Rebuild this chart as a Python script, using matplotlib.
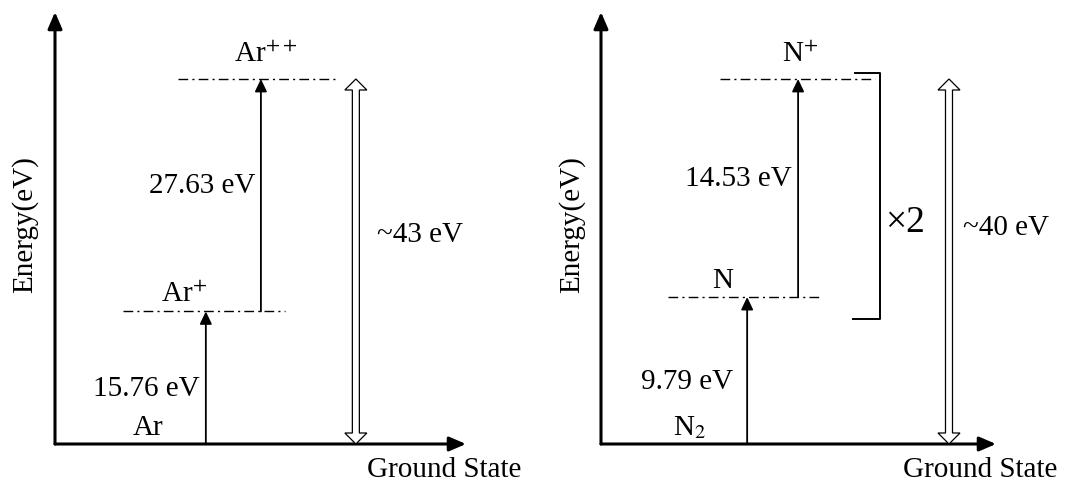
"""Ionisation energy ladders for Ar and N2."""
import matplotlib

matplotlib.use("Agg")
import matplotlib.pyplot as plt
from matplotlib.patches import Polygon
from matplotlib.transforms import IdentityTransform

# energy ladders (eV)
AR_SPECIES = ["Ar", "Ar$^{+}$", "Ar$^{++}$"]
AR_STEPS = [15.76, 27.63]
AR_TOTAL = "~43 eV"

N_SPECIES = ["N$_{2}$", "N", "N$^{+}$"]
N_STEPS = [9.79, 14.53]
N_TOTAL = "~40 eV"
N_MULT = "\u00d72"

Y_LABEL = "Energy(eV)"
X_LABEL = "Ground State"

plt.rcParams.update(
    {
        "font.family": "Liberation Serif",
        "mathtext.fontset": "stix",
        "font.size": 21,
    }
)

W, H = 1083, 486
GROUND_PX, TOP_PX, LEVEL_TOP_PX = 444, 12, 79

fig = plt.figure(figsize=(W / 100, H / 100), dpi=100)


def make_axes(x0, x1):
    ax = fig.add_axes([x0 / W, (H - GROUND_PX) / H, (x1 - x0) / W, (GROUND_PX - TOP_PX) / H])
    ax.axis("off")
    return ax


def arrow(ax, start, end, lw, hl, hw, coords="data"):
    ax.annotate(
        "",
        xy=end,
        xytext=start,
        xycoords=coords,
        textcoords=coords,
        arrowprops=dict(
            arrowstyle=f"-|>,head_length={hl},head_width={hw}",
            lw=lw,
            color="black",
            shrinkA=0,
            shrinkB=0,
            mutation_scale=10,
        ),
        annotation_clip=False,
    )


def label(ax, text, x, y, dy, ha="center", **kw):
    ax.annotate(text, xy=(x, y), xytext=(0, dy), textcoords="offset pixels",
                ha=ha, va="baseline", annotation_clip=False, **kw)


def hollow_double_arrow(ax, x, y0, y1, head_w=11, head_l=11, shaft_w=3.5):
    (cx, yb), (_, yt) = ax.transData.transform([(x, y0), (x, y1)])
    verts = [
        (cx, yb), (cx + head_w, yb + head_l), (cx + shaft_w, yb + head_l),
        (cx + shaft_w, yt - head_l), (cx + head_w, yt - head_l), (cx, yt),
        (cx - head_w, yt - head_l), (cx - shaft_w, yt - head_l),
        (cx - shaft_w, yb + head_l), (cx - head_w, yb + head_l),
    ]
    ax.add_patch(Polygon(verts, closed=True, transform=IdentityTransform(),
                         facecolor="white", edgecolor="black", lw=0.9,
                         clip_on=False, zorder=3))


def draw_panel(ax, species, steps, total, step_x, spans, species_x,
               step_label_x, total_x, total_label_x, total_dy):
    levels = [0.0]
    for s in steps:
        levels.append(levels[-1] + s)
    top = levels[-1]
    ax.set_xlim(0, 1)
    ax.set_ylim(0, top * (GROUND_PX - TOP_PX) / (GROUND_PX - LEVEL_TOP_PX))

    # axes with arrowheads
    arrow(ax, (0, 0), (0, 1), 2.2, 1.0, 0.43, coords="axes fraction")
    arrow(ax, (0, 0), (1, 0), 2.2, 1.0, 0.43, coords="axes fraction")

    # excited levels
    for (a, b), e in zip(spans, levels[1:]):
        ax.plot([a, b], [e, e], color="black", lw=1.0, dashes=(7, 3, 1.5, 3))

    # ionisation steps
    for i, s in enumerate(steps):
        arrow(ax, (step_x[i], levels[i]), (step_x[i], levels[i + 1]), 1.3, 0.75, 0.36)
        mid = (levels[i] + levels[i + 1]) / 2
        dy = -18 if i == 0 else 2.5
        label(ax, f"{s:.2f} eV", step_label_x[i], mid, dy, ha="right")

    for i, (name, e) in enumerate(zip(species, levels)):
        label(ax, name, species_x[i], e, 17 if i == 2 else 9)

    hollow_double_arrow(ax, total_x, 0, top)
    label(ax, total, total_label_x, top / 2, total_dy, ha="left")
    return levels


ax_ar = make_axes(55, 466)
draw_panel(ax_ar, AR_SPECIES, AR_STEPS, AR_TOTAL,
           step_x=[0.367, 0.501], spans=[(0.165, 0.560), (0.299, 0.689)],
           species_x=[0.226, 0.314, 0.513], step_label_x=[0.353, 0.487],
           total_x=0.732, total_label_x=0.783, total_dy=19.5)

ax_n = make_axes(601, 996)
n_levels = draw_panel(ax_n, N_SPECIES, N_STEPS, N_TOTAL,
                      step_x=[0.370, 0.499], spans=[(0.170, 0.559), (0.301, 0.694)],
                      species_x=[0.225, 0.309, 0.504], step_label_x=[0.334, 0.484],
                      total_x=0.881, total_label_x=0.916, total_dy=26.5)

# bracket marking the doubled N -> N+ step
px = n_levels[-1] / (GROUND_PX - LEVEL_TOP_PX)
b_lo = n_levels[1] - 22 * px
b_hi = n_levels[2] + 6 * px
ax_n.plot([0.638, 0.706, 0.706, 0.643], [b_lo, b_lo, b_hi, b_hi],
          color="black", lw=1.4, clip_on=False)
label(ax_n, N_MULT, 0.770, n_levels[-1] / 2, 29.5, fontsize=27)

for ax, gx in [(ax_ar, 0.759), (ax_n, 0.765)]:
    label(ax, X_LABEL, gx, 0, -33, ha="left")
    ax.text(-0.074, 0.507, Y_LABEL, transform=ax.transAxes, rotation=90,
            ha="center", va="center")

fig.savefig("out.png", dpi=100, facecolor="white")
